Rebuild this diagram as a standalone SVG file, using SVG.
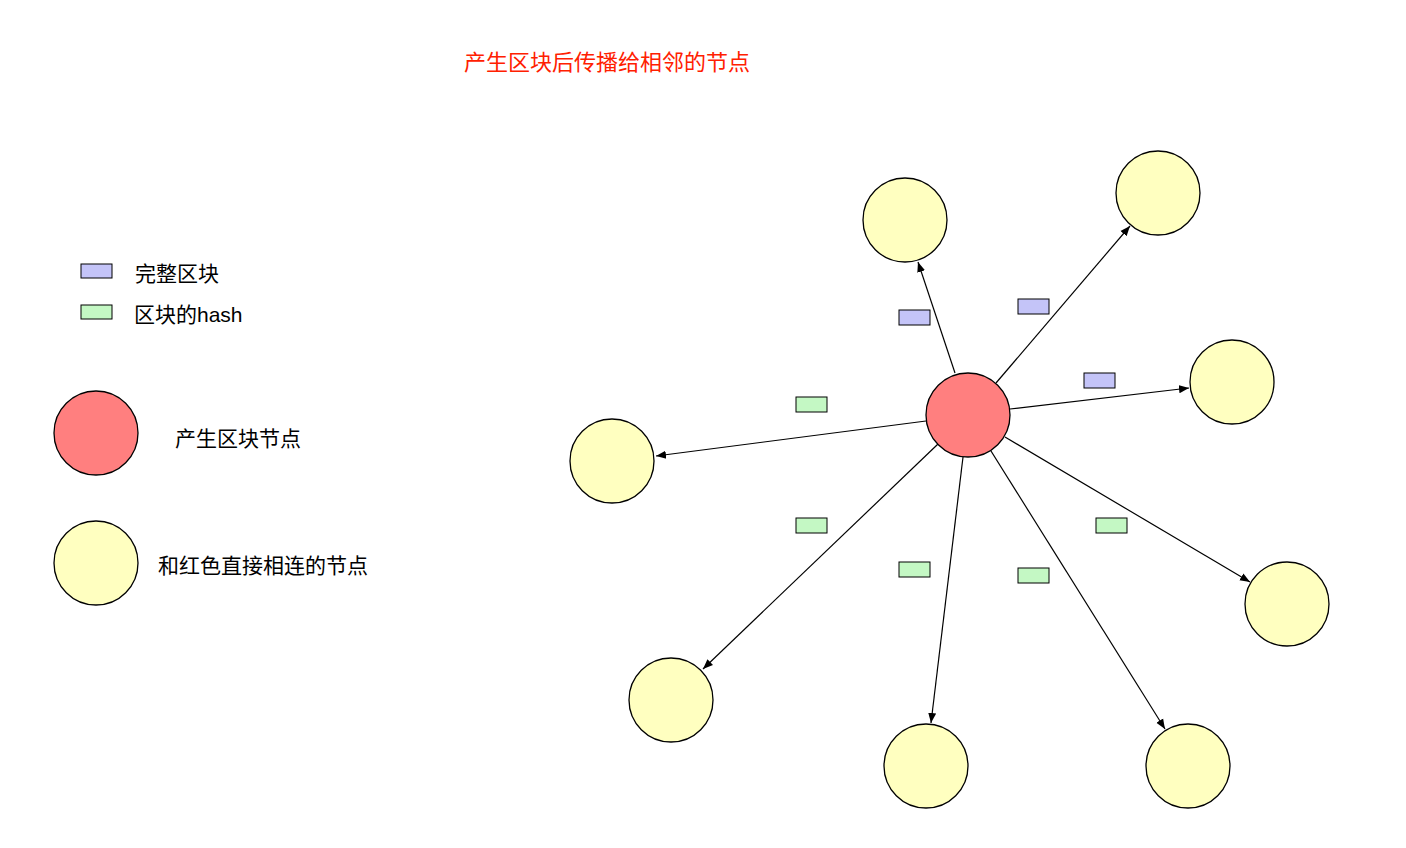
<svg xmlns="http://www.w3.org/2000/svg" width="1406" height="848" viewBox="0 0 1406 848">
<style>
.t{font-family:"Liberation Sans","Noto Sans CJK SC",sans-serif;font-size:21px;fill:#000}
.y{fill:#ffffc0;stroke:#000;stroke-width:1.3}
.r{fill:#ff7f7f;stroke:#000;stroke-width:1.3}
.b{fill:#c4c4f8;stroke:#000;stroke-width:1}
.g{fill:#c4f8c4;stroke:#000;stroke-width:1}
.c line{stroke:#000;stroke-width:1.2;marker-end:url(#a)}
</style>
<defs><marker id="a" viewBox="0 0 10 10" refX="10" refY="5" markerWidth="10" markerHeight="10" markerUnits="userSpaceOnUse" orient="auto"><path d="M0,1L10,5L0,9z" fill="#000"/></marker></defs>
<rect width="1406" height="848" fill="#fff"/>
<text x="464" y="70" class="t" style="fill:#ff2000;font-size:22px">产生区块后传播给相邻的节点</text>
<g id="legend">
<rect x="81" y="264" width="31" height="14" class="b"/><text x="135" y="281" class="t">完整区块</text>
<rect x="81" y="305" width="31" height="14" class="g"/><text x="134" y="322" class="t">区块的hash</text>
<circle cx="96" cy="433" r="42" class="r"/><text x="175" y="446" class="t">产生区块节点</text>
<circle cx="96" cy="563" r="42" class="y"/><text x="158" y="573" class="t">和红色直接相连的节点</text>
</g>
<g class="c" id="connectors">
<line x1="955" y1="373" x2="918" y2="262"/>
<line x1="996" y1="383" x2="1130" y2="226"/>
<line x1="1010" y1="409" x2="1189" y2="388"/>
<line x1="926" y1="421" x2="656" y2="456"/>
<line x1="1005" y1="437" x2="1250" y2="582"/>
<line x1="991" y1="451" x2="1165" y2="729"/>
<line x1="963" y1="457" x2="931" y2="723"/>
<line x1="938" y1="444" x2="703" y2="669"/>
</g>
<g id="center"><circle cx="968" cy="415" r="42" class="r"/></g>
<g id="n1"><circle cx="905" cy="220" r="42" class="y"/></g>
<g id="n2"><circle cx="1158" cy="193" r="42" class="y"/></g>
<g id="n3"><circle cx="1232" cy="382" r="42" class="y"/></g>
<g id="n4"><circle cx="612" cy="461" r="42" class="y"/></g>
<g id="n5"><circle cx="1287" cy="604" r="42" class="y"/></g>
<g id="n6"><circle cx="1188" cy="766" r="42" class="y"/></g>
<g id="n7"><circle cx="926" cy="766" r="42" class="y"/></g>
<g id="n8"><circle cx="671" cy="700" r="42" class="y"/></g>
<g id="packets">
<rect x="899" y="310" width="31" height="15" class="b"/>
<rect x="1018" y="299" width="31" height="15" class="b"/>
<rect x="1084" y="373" width="31" height="15" class="b"/>
<rect x="796" y="397" width="31" height="15" class="g"/>
<rect x="796" y="518" width="31" height="15" class="g"/>
<rect x="899" y="562" width="31" height="15" class="g"/>
<rect x="1018" y="568" width="31" height="15" class="g"/>
<rect x="1096" y="518" width="31" height="15" class="g"/>
</g>
</svg>
